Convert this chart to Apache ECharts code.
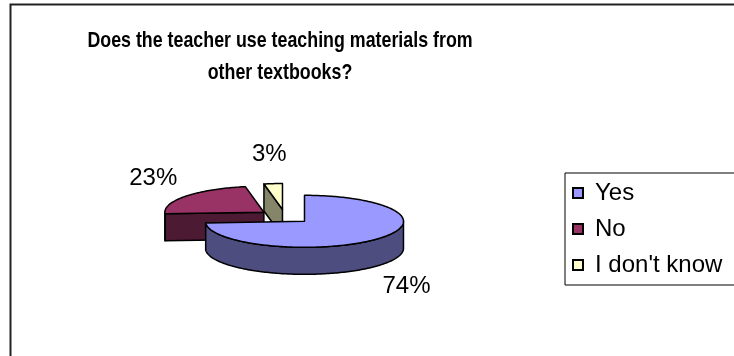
<!DOCTYPE html>
<html>
<head>
<meta charset="utf-8">
<script src="https://cdn.jsdelivr.net/npm/echarts@6/dist/echarts.min.js"></script>
<style>
  html, body { margin: 0; padding: 0; background: #fff; }
  #chart { width: 734px; height: 356px; }
</style>
</head>
<body>
<div id="chart"></div>
<script>
// Survey answers
const categories = ['Yes', 'No', "I don't know"];
const values = [74, 23, 3];
const titleLines = ['Does the teacher use teaching materials from', 'other textbooks?'];

// Face colours: top face and the darker shade used for the walls
const topColors = ['#9999FF', '#993366', '#FFFFCC'];
const sideColors = ['#4D4D80', '#4D1A33', '#85856A'];

// Geometry of the tilted, exploded pie
const PIE = { cx: 285, cy: 216.5, rx: 99, ry: 26, depth: 27, explode: 0.27, labelRx: 140, labelRy: 55 };
const FONT = '"Liberation Sans", Arial, sans-serif';

const total = values.reduce((a, b) => a + b, 0);
const startAngles = [];
{
  let acc = 0;
  values.forEach(v => { startAngles.push(acc / total * Math.PI * 2); acc += v; });
}

// Angles run clockwise from 12 o'clock; the ellipse is the projected disc.
function makeRenderer(i) {
  return function (params, api) {
    const v = api.value(0);
    const a0 = startAngles[i];
    const a1 = a0 + v / total * Math.PI * 2;
    const mid = (a0 + a1) / 2;
    const ox = PIE.cx + PIE.explode * PIE.rx * Math.sin(mid);
    const oy = PIE.cy - PIE.explode * PIE.ry * Math.cos(mid);
    const D = PIE.depth;
    const P = (t, dy) => [ox + PIE.rx * Math.sin(t), oy - PIE.ry * Math.cos(t) + (dy || 0)];
    const arc = (t0, t1, dy) => {
      const n = Math.max(2, Math.ceil(Math.abs(t1 - t0) / 0.02));
      const pts = [];
      for (let k = 0; k <= n; k++) pts.push(P(t0 + (t1 - t0) * k / n, dy));
      return pts;
    };
    const line = { stroke: '#000', lineWidth: 1.5, lineJoin: 'round' };
    const children = [];

    // radial cut faces turned towards the viewer
    [[a0, -1], [a1, 1]].forEach(([t, s]) => {
      const normal = t + s * Math.PI / 2;
      if (-Math.cos(normal) > 0.02) {
        const e = P(t);
        children.push({
          type: 'polygon',
          shape: { points: [[ox, oy], e, [e[0], e[1] + D], [ox, oy + D]] },
          style: Object.assign({ fill: sideColors[i] }, line)
        });
      }
    });

    // outer wall on the front half
    const lo = Math.max(a0, Math.PI / 2);
    const hi = Math.min(a1, Math.PI * 1.5);
    if (hi > lo) {
      const pts = arc(lo, hi).concat(arc(hi, lo, D));
      children.push({
        type: 'polygon',
        shape: { points: pts },
        style: Object.assign({ fill: sideColors[i] }, line)
      });
    }

    // top face
    children.push({
      type: 'polygon',
      shape: { points: [[ox, oy]].concat(arc(a0, a1)) },
      style: Object.assign({ fill: topColors[i] }, line)
    });

    // percentage label outside the slice
    const lx = ox + PIE.labelRx * Math.sin(mid);
    const ly = oy - PIE.labelRy * Math.cos(mid) + (Math.cos(mid) < 0 ? D : 0);
    children.push({
      type: 'text',
      x: lx, y: ly,
      style: {
        text: Math.round(v / total * 100) + '%',
        fill: '#000', font: '24px ' + FONT,
        align: 'center', verticalAlign: 'middle'
      }
    });

    return { type: 'group', children: children };
  };
}

// paint order: back slices first, the front slice last
const zOrder = [4, 2, 3];

const chart = echarts.init(document.getElementById('chart'), null, { renderer: 'canvas' });
chart.setOption({
  backgroundColor: '#fff',
  animation: false,
  legend: {
    orient: 'vertical',
    left: 565,
    top: 173,
    icon: 'rect',
    itemWidth: 10,
    itemHeight: 10,
    itemGap: 10,
    padding: [7, 30, 7, 7],
    borderColor: '#000',
    borderWidth: 1,
    itemStyle: { borderColor: '#000', borderWidth: 2 },
    textStyle: { fontFamily: FONT, fontSize: 24, lineHeight: 26, color: '#000', padding: [0, 0, 0, 7] },
    data: categories
  },
  graphic: [{
    type: 'rect',
    shape: { x: 10.5, y: 4.5, width: 800, height: 400 },
    style: { fill: 'none', stroke: '#222', lineWidth: 2 },
    silent: true
  }, {
    type: 'text',
    x: 280,
    y: 25,
    scaleX: 0.81,
    silent: true,
    style: {
      text: titleLines.join('\n'),
      font: 'bold 22px ' + FONT,
      lineHeight: 32,
      fill: '#000',
      align: 'center',
      verticalAlign: 'top'
    }
  }],
  series: categories.map((name, i) => ({
    type: 'custom',
    name: name,
    coordinateSystem: 'none',
    z: zOrder[i],
    itemStyle: { color: topColors[i] },
    renderItem: makeRenderer(i),
    data: [[values[i]]]
  }))
});
</script>
</body>
</html>
